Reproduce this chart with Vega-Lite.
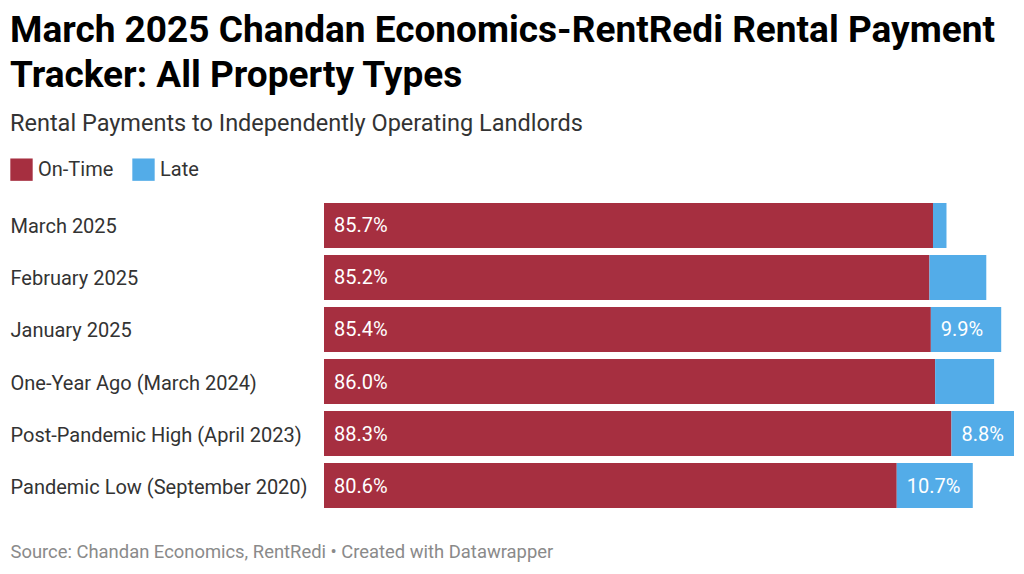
{
  "$schema": "https://vega.github.io/schema/vega-lite/v6.json",
  "autosize": {"type": "none"},
  "width": 690,
  "height": 305,
  "padding": {"left": 324, "top": 203, "right": 10, "bottom": 66},
  "background": "#ffffff",
  "config": {"view": {"stroke": null}},
  "title": {
    "text": ["March 2025 Chandan Economics-RentRedi Rental Payment", "Tracker: All Property Types"],
    "subtitle": "Rental Payments to Independently Operating Landlords",
    "anchor": "start",
    "frame": "group",
    "dx": -314,
    "font": "Roboto",
    "fontSize": 37,
    "fontWeight": "bold",
    "color": "#000000",
    "lineHeight": 45,
    "subtitleFont": "Roboto",
    "subtitleFontSize": 23.5,
    "subtitleColor": "#333333",
    "subtitlePadding": 17,
    "offset": 22
  },
  "data": {
    "values": [
      {"category": "March 2025", "status": "On-Time", "value": 85.7, "label": "85.7%"},
      {"category": "March 2025", "status": "Late", "value": 1.9, "label": ""},
      {"category": "February 2025", "status": "On-Time", "value": 85.2, "label": "85.2%"},
      {"category": "February 2025", "status": "Late", "value": 8.0, "label": ""},
      {"category": "January 2025", "status": "On-Time", "value": 85.4, "label": "85.4%"},
      {"category": "January 2025", "status": "Late", "value": 9.9, "label": "9.9%"},
      {"category": "One-Year Ago (March 2024)", "status": "On-Time", "value": 86.0, "label": "86.0%"},
      {"category": "One-Year Ago (March 2024)", "status": "Late", "value": 8.3, "label": ""},
      {"category": "Post-Pandemic High (April 2023)", "status": "On-Time", "value": 88.3, "label": "88.3%"},
      {"category": "Post-Pandemic High (April 2023)", "status": "Late", "value": 8.8, "label": "8.8%"},
      {"category": "Pandemic Low (September 2020)", "status": "On-Time", "value": 80.6, "label": "80.6%"},
      {"category": "Pandemic Low (September 2020)", "status": "Late", "value": 10.7, "label": "10.7%"}
    ]
  },
  "transform": [
    {"stack": "value", "groupby": ["category"], "sort": [{"field": "status", "order": "descending"}], "as": ["x0", "x1"]}
  ],
  "encoding": {
    "y": {
      "field": "category",
      "type": "nominal",
      "sort": null,
      "scale": {"paddingInner": 0.135, "paddingOuter": 0},
      "axis": {
        "title": null,
        "ticks": false,
        "domain": false,
        "labelAlign": "left",
        "labelPadding": 314,
        "labelLimit": 330,
        "labelOffset": 2,
        "labelFont": "Roboto",
        "labelFontSize": 20,
        "labelColor": "#333333"
      }
    }
  },
  "layer": [
    {
      "mark": {"type": "bar"},
      "encoding": {
        "x": {
          "field": "x0",
          "type": "quantitative",
          "scale": {"domain": [0, 97.1], "nice": false, "zero": true},
          "axis": {
            "labels": false,
            "ticks": false,
            "domain": false,
            "grid": false,
            "title": "Source: Chandan Economics, RentRedi • Created with Datawrapper",
            "titleAnchor": "start",
            "titleAlign": "left",
            "titleX": -314,
            "titleY": 34,
            "titleFont": "Roboto",
            "titleFontSize": 18.4,
            "titleFontWeight": "normal",
            "titleColor": "#8a8a8a"
          }
        },
        "x2": {"field": "x1"},
        "color": {
          "field": "status",
          "type": "nominal",
          "scale": {"domain": ["On-Time", "Late"], "range": ["#a62f40", "#53ace8"]},
          "legend": {
            "title": null,
            "orient": "none",
            "legendX": -314,
            "legendY": -45,
            "direction": "horizontal",
            "symbolType": "square",
            "symbolSize": 500,
            "symbolStrokeWidth": 0,
            "symbolOpacity": 1,
            "labelFont": "Roboto",
            "labelFontSize": 20,
            "labelColor": "#333333",
            "labelOffset": 5,
            "columnPadding": 18
          }
        }
      }
    },
    {
      "mark": {"type": "text", "align": "left", "baseline": "middle", "dx": 10, "dy": 1, "font": "Roboto", "fontSize": 20, "color": "#ffffff"},
      "encoding": {
        "x": {"field": "x0", "type": "quantitative"},
        "text": {"field": "label"}
      }
    }
  ]
}
